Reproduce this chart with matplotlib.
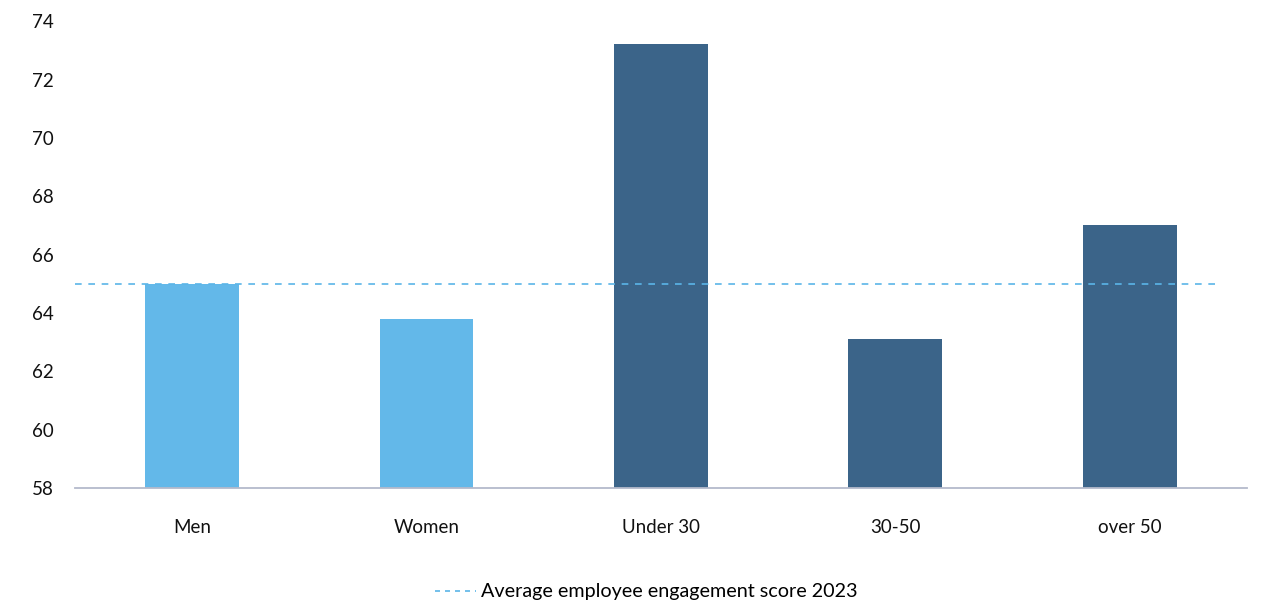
import matplotlib.pyplot as plt
from matplotlib.lines import Line2D

plt.rcParams['font.family'] = ['Lato', 'DejaVu Sans']

categories = ['Men', 'Women', 'Under 30', '30-50', 'over 50']
scores = [65.0, 63.8, 73.2, 63.1, 67.0]
colors = ['#63B8E9', '#63B8E9', '#3B6489', '#3B6489', '#3B6489']
average_2023 = 65.0
yticks = [58, 60, 62, 64, 66, 68, 70, 72, 74]

fig = plt.figure(figsize=(12.62, 6.04), dpi=100)
ax = fig.add_axes([0.0594, 0.192, 0.9286, 0.773])

x = range(len(categories))
ax.bar(x, [s - 58 for s in scores], bottom=58, width=0.4, color=colors, zorder=2)
ax.axhline(average_2023, xmin=0, xmax=0.973, color='#5BB5E8', lw=1.2,
           ls=(0, (4, 4)), zorder=3)

ax.set_xlim(-0.5, len(categories) - 0.5)
ax.set_ylim(58, 74)
ax.set_yticks(yticks)
ax.set_xticks(list(x))
ax.set_xticklabels(categories)
ax.tick_params(axis='both', length=0, labelsize=13.5, colors='#111111')
ax.tick_params(axis='x', pad=22)
ax.tick_params(axis='y', pad=15)
for s in ['top', 'right', 'left']:
    ax.spines[s].set_visible(False)
ax.spines['bottom'].set_color('#B4BACB')
ax.spines['bottom'].set_linewidth(1.3)

handle = Line2D([0], [0], color='#5BB5E8', lw=1.2, ls=(0, (3, 3)))
fig.legend([handle], ['Average employee engagement score 2023'],
           loc='center', bbox_to_anchor=(0.512, 0.02), frameon=False,
           fontsize=14.2, handlelength=2.1, handletextpad=0.25)

fig.savefig('out.png', dpi=100)
